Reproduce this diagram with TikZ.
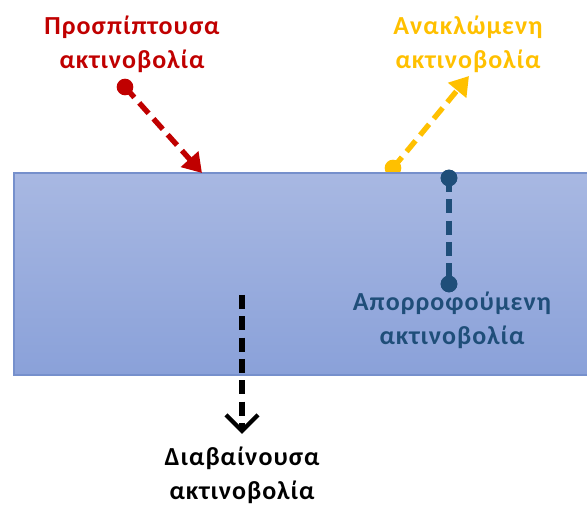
\documentclass[tikz,border=0pt]{standalone}
\usepackage{fontspec}
\setmainfont{Carlito}
\usetikzlibrary{arrows.meta}
\definecolor{cred}{HTML}{C00000}
\definecolor{cyel}{HTML}{FFC000}
\definecolor{cblue}{HTML}{1F4E79}
\definecolor{slabtop}{HTML}{A8B8E2}
\definecolor{slabbot}{HTML}{8AA1D9}
\definecolor{slabedge}{HTML}{7690CC}
\tikzset{
  ray/.style={line width=4pt, dash pattern=on 10.5pt off 5.5pt},
  dot/.style={circle, inner sep=0pt, minimum size=12.5pt},
  lbl/.style={align=center, font=\fontsize{19.5}{25.5}\selectfont\bfseries\addfontfeatures{LetterSpace=4}},
}
\begin{document}
\begin{tikzpicture}[x=0.75pt,y=-0.75pt]
\useasboundingbox (0,0) rectangle (587,505);
% reflected (drawn below the slab)
\node[lbl, text=cyel] (tre) at (468,44) {Ανακλώμενη\\ακτινοβολία};
\node[dot, fill=cyel] (y1) at (393,168) {};
\coordinate (y2) at (469,76);
\draw[ray, cyel, -{Triangle[length=14pt,width=17pt]}] (y1.center) -- (y2);
% slab
\shade[top color=slabtop, bottom color=slabbot] (14,173) rectangle (587,375);
\draw[slabedge, line width=1pt] (587,173) -- (14,173) -- (14,375) -- (587,375);
% incident
\node[lbl, text=cred] (tin) at (132,44) {Προσπίπτουσα\\ακτινοβολία};
\node[dot, fill=cred] (r1) at (125,87) {};
\coordinate (r2) at (202,173);
\draw[ray, cred, -{Triangle[length=14pt,width=17pt]}] (r1.center) -- (r2);
% absorbed
\node[lbl, text=cblue] (tab) at (452,320) {Απορροφούμενη\\ακτινοβολία};
\node[dot, fill=cblue] (b1) at (449,178) {};
\node[dot, fill=cblue] (b2) at (449,284) {};
\draw[ray, cblue] (b1.center) -- (b2.center);
\node[dot, fill=cblue] at (b1) {};
\node[dot, fill=cblue] at (b2) {};
% transmitted
\node[lbl, text=black] (ttr) at (242,475) {Διαβαίνουσα\\ακτινοβολία};
\coordinate (k1) at (242,295);
\coordinate (k2) at (242,434);
\draw[ray, black, -{Straight Barb[length=12pt,width=24pt,line width=3.2pt]}] (k1) -- (k2);
\end{tikzpicture}
\end{document}
